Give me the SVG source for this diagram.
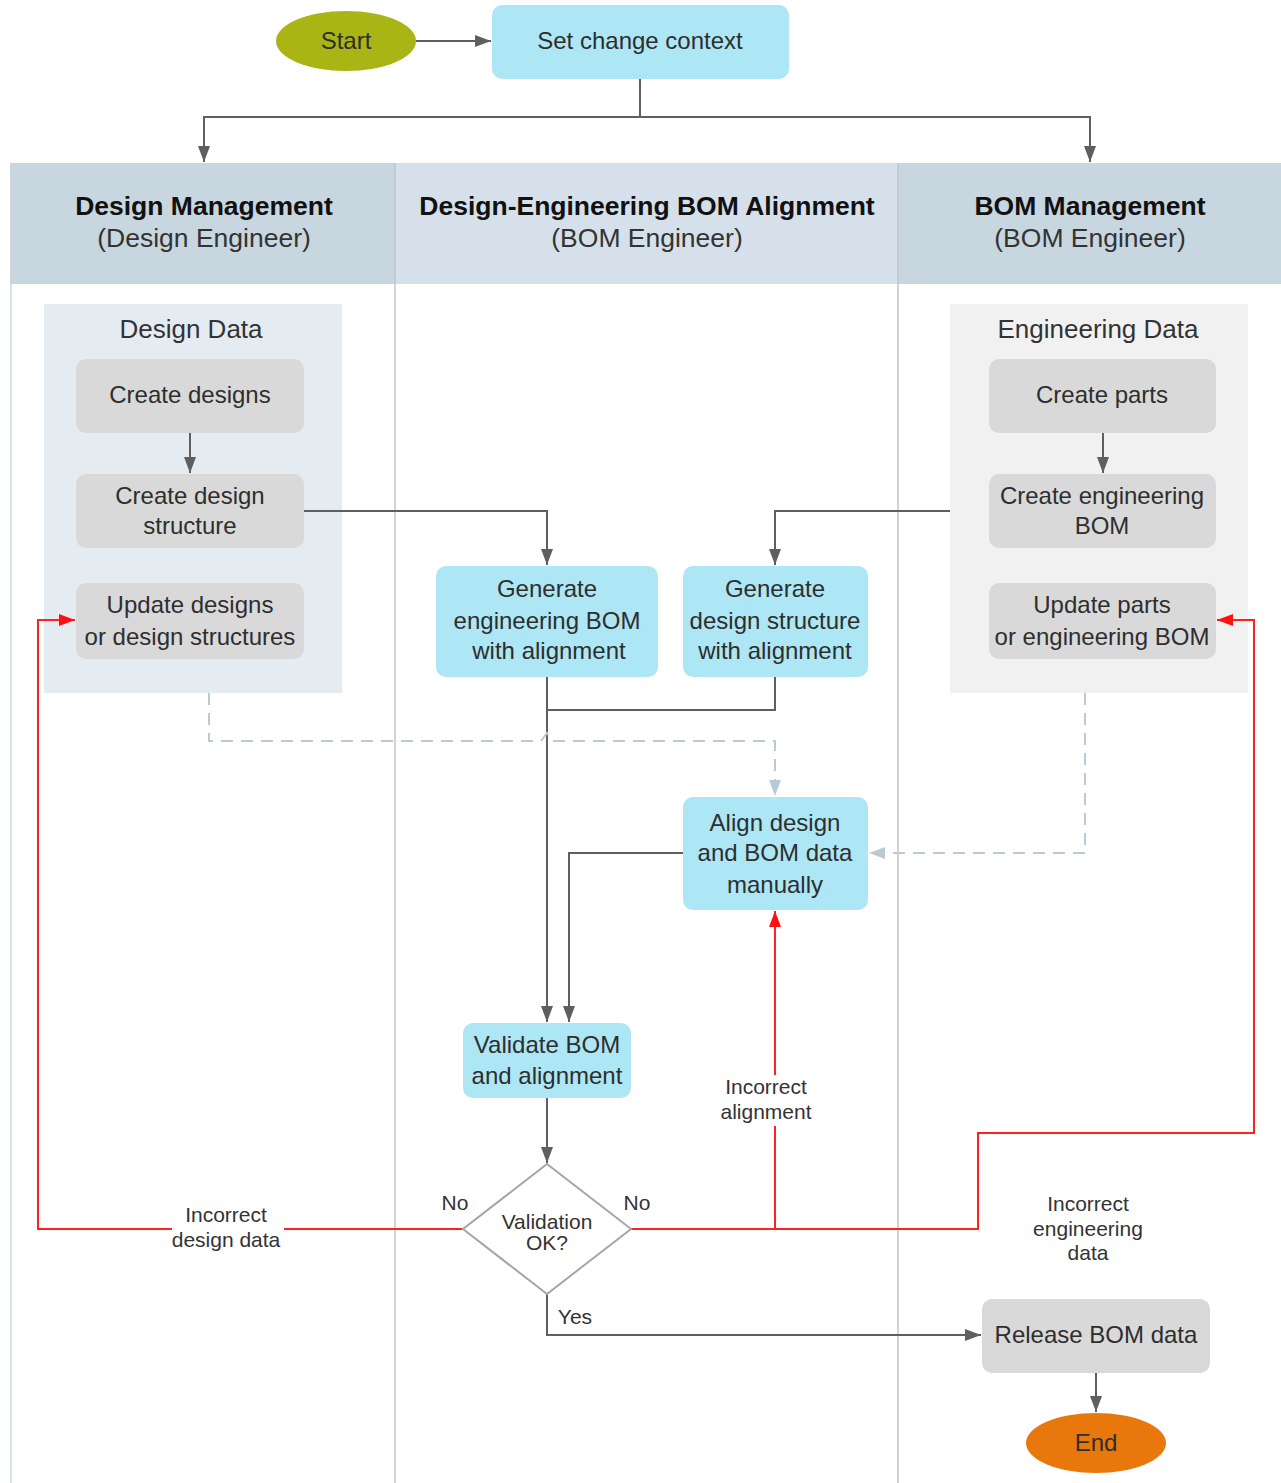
<svg xmlns="http://www.w3.org/2000/svg" width="1281" height="1483" viewBox="0 0 1281 1483">
  <defs>
    <style>
      .t { font-family: "Liberation Sans", Arial, sans-serif; fill: #2e2e2e; text-anchor: middle; }
      .box { font-size: 24px; }
      .hd { font-size: 26.5px; font-weight: bold; fill: #111; }
      .hs { font-size: 26.5px; fill: #333; }
      .grp { font-size: 26px; fill: #333; }
      .lbl { font-size: 21px; fill: #333; }
      .blue { fill: #ade6f4; }
      .gray { fill: #d9d9d9; }
      .conn { fill: none; stroke: #5f5f5f; stroke-width: 2; }
      .red { fill: none; stroke: #ff2020; stroke-width: 2; }
      .dash { fill: none; stroke: #b9cad6; stroke-width: 2; stroke-dasharray: 12 8; }
      .lane { stroke: #c4c4c4; stroke-width: 1.5; }
    </style>
    <marker id="ah" viewBox="0 0 16 12" refX="16" refY="6" markerWidth="16" markerHeight="12" markerUnits="userSpaceOnUse" orient="auto">
      <path d="M0,0 L16,6 L0,12 z" fill="#5f5f5f"/>
    </marker>
    <marker id="ahr" viewBox="0 0 16 12" refX="16" refY="6" markerWidth="16" markerHeight="12" markerUnits="userSpaceOnUse" orient="auto">
      <path d="M0,0 L16,6 L0,12 z" fill="#ff1010"/>
    </marker>
    <marker id="ahd" viewBox="0 0 16 12" refX="16" refY="6" markerWidth="16" markerHeight="12" markerUnits="userSpaceOnUse" orient="auto">
      <path d="M0,0 L16,6 L0,12 z" fill="#b9cad6"/>
    </marker>
  </defs>

  <rect width="1281" height="1483" fill="#ffffff"/>

  <!-- Swimlanes -->
  <g id="lanes">
    <rect x="10" y="163" width="385" height="121" fill="#c8d6e0"/>
    <rect x="395" y="163" width="503" height="121" fill="#d5e0ea"/>
    <rect x="898" y="163" width="383" height="121" fill="#c8d6e0"/>
    <line x1="11" y1="284" x2="11" y2="1483" stroke="#d5e0ea" stroke-width="2"/>
    <line class="lane" x1="395" y1="163" x2="395" y2="1483"/>
    <line class="lane" x1="898" y1="163" x2="898" y2="1483"/>
    <text class="t hd" x="204" y="215">Design Management</text>
    <text class="t hs" x="204" y="247">(Design Engineer)</text>
    <text class="t hd" x="647" y="215">Design-Engineering BOM Alignment</text>
    <text class="t hs" x="647" y="247">(BOM Engineer)</text>
    <text class="t hd" x="1090" y="215">BOM Management</text>
    <text class="t hs" x="1090" y="247">(BOM Engineer)</text>
  </g>

  <!-- Data groups -->
  <g id="design-data">
    <rect x="44" y="304" width="298" height="389" fill="#e5ecf1"/>
    <text class="t grp" x="191" y="338">Design Data</text>
  </g>
  <g id="engineering-data">
    <rect x="950" y="304" width="298" height="389" fill="#f1f1f1"/>
    <text class="t grp" x="1098" y="338">Engineering Data</text>
  </g>

  <!-- Connectors -->
  <g id="connectors">
    <path class="conn" d="M416,41 H491" marker-end="url(#ah)"/>
    <path class="conn" d="M640,79 V117 H204 V162" marker-end="url(#ah)"/>
    <path class="conn" d="M640,117 H1090 V162" marker-end="url(#ah)"/>
    <path class="conn" d="M190,433 V473" marker-end="url(#ah)"/>
    <path class="conn" d="M1103,433 V473" marker-end="url(#ah)"/>
    <path class="conn" d="M304,511 H547 V565" marker-end="url(#ah)"/>
    <path class="conn" d="M950,511 H775 V565" marker-end="url(#ah)"/>
    <path class="conn" d="M547,677 V1022" marker-end="url(#ah)"/>
    <path class="conn" d="M775,677 V710 H547"/>
    <path class="conn" d="M683,853 H569 V1022" marker-end="url(#ah)"/>
    <path class="conn" d="M547,1098 V1163" marker-end="url(#ah)"/>
    <path class="conn" d="M547,1294 V1335 H981" marker-end="url(#ah)"/>
    <path class="conn" d="M1096,1373 V1412" marker-end="url(#ah)"/>

    <!-- Dashed data links -->
    <path class="dash" d="M209,693 V741 H541 L547,733 L553,741 H775 V796" marker-end="url(#ahd)"/>
    <path class="dash" d="M1085,693 V853 H869" marker-end="url(#ahd)"/>

    <!-- Validation failure loops -->
    <path class="red" d="M463,1229 H284"/>
    <path class="red" d="M172,1229 H38 V620 H75" marker-end="url(#ahr)"/>
    <path class="red" d="M631,1229 H978 V1133 H1254 V620 H1217" marker-end="url(#ahr)"/>
    <path class="red" d="M775,1229 V1126"/>
    <path class="red" d="M775,1075 V911" marker-end="url(#ahr)"/>

    <text class="t lbl" x="226" y="1222">Incorrect</text>
    <text class="t lbl" x="226" y="1247">design data</text>
    <text class="t lbl" x="766" y="1094">Incorrect</text>
    <text class="t lbl" x="766" y="1119">alignment</text>
    <text class="t lbl" x="1088" y="1211">Incorrect</text>
    <text class="t lbl" x="1088" y="1236">engineering</text>
    <text class="t lbl" x="1088" y="1260">data</text>
    <text class="t lbl" x="455" y="1210">No</text>
    <text class="t lbl" x="637" y="1210">No</text>
    <text class="t lbl" x="575" y="1324">Yes</text>
  </g>

  <!-- Nodes -->
  <g id="start">
    <ellipse cx="346" cy="41" rx="70" ry="30" fill="#a9b415"/>
    <text class="t box" x="346" y="49">Start</text>
  </g>
  <g id="set-change-context">
    <rect class="blue" x="492" y="5" width="297" height="74" rx="10"/>
    <text class="t box" x="640" y="49">Set change context</text>
  </g>
  <g id="create-designs">
    <rect class="gray" x="76" y="359" width="228" height="74" rx="10"/>
    <text class="t box" x="190" y="403">Create designs</text>
  </g>
  <g id="create-design-structure">
    <rect class="gray" x="76" y="474" width="228" height="74" rx="10"/>
    <text class="t box" x="190" y="504">Create design</text>
    <text class="t box" x="190" y="534">structure</text>
  </g>
  <g id="update-designs">
    <rect class="gray" x="76" y="583" width="228" height="76" rx="10"/>
    <text class="t box" x="190" y="613">Update designs</text>
    <text class="t box" x="190" y="645">or design structures</text>
  </g>
  <g id="create-parts">
    <rect class="gray" x="989" y="359" width="227" height="74" rx="10"/>
    <text class="t box" x="1102" y="403">Create parts</text>
  </g>
  <g id="create-engineering-bom">
    <rect class="gray" x="989" y="474" width="227" height="74" rx="10"/>
    <text class="t box" x="1102" y="504">Create engineering</text>
    <text class="t box" x="1102" y="534">BOM</text>
  </g>
  <g id="update-parts">
    <rect class="gray" x="989" y="583" width="227" height="76" rx="10"/>
    <text class="t box" x="1102" y="613">Update parts</text>
    <text class="t box" x="1102" y="645">or engineering BOM</text>
  </g>
  <g id="generate-ebom">
    <rect class="blue" x="436" y="566" width="222" height="111" rx="10"/>
    <text class="t box" x="547" y="597">Generate</text>
    <text class="t box" x="547" y="629">engineering BOM</text>
    <text class="t box" x="549" y="659">with alignment</text>
  </g>
  <g id="generate-design-structure">
    <rect class="blue" x="683" y="566" width="185" height="111" rx="10"/>
    <text class="t box" x="775" y="597">Generate</text>
    <text class="t box" x="775" y="629">design structure</text>
    <text class="t box" x="775" y="659">with alignment</text>
  </g>
  <g id="align-manually">
    <rect class="blue" x="683" y="797" width="185" height="113" rx="10"/>
    <text class="t box" x="775" y="831">Align design</text>
    <text class="t box" x="775" y="861">and BOM data</text>
    <text class="t box" x="775" y="893">manually</text>
  </g>
  <g id="validate">
    <rect class="blue" x="463" y="1023" width="168" height="75" rx="10"/>
    <text class="t box" x="547" y="1053">Validate BOM</text>
    <text class="t box" x="547" y="1084">and alignment</text>
  </g>
  <g id="validation-ok">
    <polygon points="547,1164 631,1229 547,1294 463,1229" fill="#ffffff" stroke="#a6a6a6" stroke-width="2"/>
    <text class="t lbl" x="547" y="1229">Validation</text>
    <text class="t lbl" x="547" y="1250">OK?</text>
  </g>
  <g id="release-bom">
    <rect class="gray" x="982" y="1299" width="228" height="74" rx="10"/>
    <text class="t box" x="1096" y="1343">Release BOM data</text>
  </g>
  <g id="end">
    <ellipse cx="1096" cy="1443" rx="70" ry="30" fill="#e8770c"/>
    <text class="t box" x="1096" y="1451">End</text>
  </g>
</svg>
